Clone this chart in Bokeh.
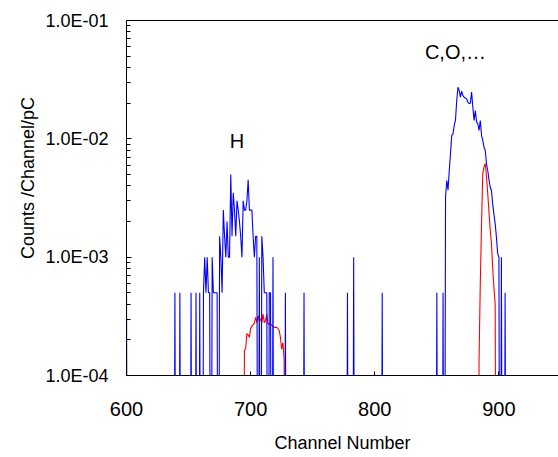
import numpy as np
from bokeh.plotting import figure
from bokeh.models import FixedTicker, LinearAxis, Label, Range1d
from bokeh.embed import file_html
from bokeh.resources import INLINE

# ---------------- data ----------------
x_ticks = [600, 700, 800, 900]
y_ticks = [1e-4, 1e-3, 1e-2, 1e-1]
y_tick_labels = ["1.0E-04", "1.0E-03", "1.0E-02", "1.0E-01"]

blue_channels = [
    600, 601, 638, 639, 640, 642, 643, 644, 651, 652, 653, 655, 656, 657, 658, 659,
    660, 661, 662, 663, 664, 665, 666, 667, 668, 669, 670, 671, 672, 673, 674, 675,
    676, 677, 678, 679, 680, 681, 682, 683, 684, 685, 686, 687, 688, 689, 690, 691,
    692, 693, 694, 695, 696, 697, 698, 699, 700, 701, 702, 703, 704, 705, 706, 707,
    708, 709, 710, 711, 712, 713, 714, 715, 716, 717, 718, 719, 727, 728, 729, 742,
    743, 744, 777, 778, 779, 782, 783, 784, 805, 806, 807, 849, 850, 851, 854, 855,
    856, 857, 858, 859, 860, 861, 862, 863, 864, 865, 866, 867, 868, 869, 870, 871,
    872, 873, 874, 875, 876, 877, 878, 879, 880, 881, 882, 883, 884, 885, 886, 887,
    888, 889, 890, 891, 892, 893, 894, 895, 896, 897, 898, 899, 900, 901, 902, 903,
    904, 905, 906,
]
blue_values = [
    5e-4, 0, 0, 5e-4, 0, 0, 5e-4, 0, 0, 5e-4, 0, 0, 5e-4, 0, 0, 5e-4,
    0, 0, 5e-4, 1e-3, 5e-4, 1e-3, 5e-4, 5e-4, 0, 1e-3, 5e-4, 5e-4, 5e-4, 5e-4, 0, 1.5e-3,
    1e-3, 5e-4, 2.5e-3, 1.5e-3, 1e-3, 2e-3, 1e-3, 1e-3, 5e-3, 1.5e-3, 3.5e-3, 2.5e-3, 1.5e-3, 3e-3, 2.5e-3, 2e-3,
    1.5e-3, 1e-3, 3e-3, 2.5e-3, 2.5e-3, 3e-3, 4.5e-3, 2.5e-3, 2.5e-3, 2.5e-3, 1.5e-3, 1e-3, 1.5e-3, 1.5e-3, 0, 1e-3,
    0, 1.5e-3, 1e-3, 5e-4, 5e-4, 5e-4, 0, 5e-4, 5e-4, 0, 1e-3, 0, 0, 5e-4, 0, 0,
    5e-4, 0, 0, 5e-4, 0, 0, 1e-3, 0, 0, 5e-4, 0, 0, 5e-4, 0, 0, 5e-4,
    0, 3.2e-3, 4.45e-3, 3.7e-3, 5.4e-3, 7.5e-3, 1.07e-2, 1.1e-2, 1.3e-2, 1.43e-2, 2.1e-2, 2.73e-2, 2.56e-2, 2.25e-2, 2.53e-2, 2.32e-2,
    2.25e-2, 2.2e-2, 2.18e-2, 2.04e-2, 1.98e-2, 2.0e-2, 2.48e-2, 1.85e-2, 1.43e-2, 1.73e-2, 1.39e-2, 1.34e-2, 1.18e-2, 1.43e-2, 1.07e-2, 9.7e-3,
    8.5e-3, 8e-3, 6.15e-3, 5.4e-3, 4.5e-3, 3.9e-3, 3.66e-3, 2.82e-3, 2.3e-3, 1.91e-3, 1.47e-3, 1.07e-3, 1e-3, 0, 1e-3, 0,
    0, 5e-4, 0,
]

red_channels = [
    694, 695, 696, 697, 698, 699, 700, 701, 702, 703, 704, 705, 706, 707, 708, 709,
    710, 711, 712, 713, 714, 715, 716, 717, 718, 719, 720, 721, 722, 723, 724, 725,
    726, 727, 728,
    883, 884, 885, 886, 887, 888, 889, 890, 891, 892, 893, 894, 895, 896, 897, 898,
]
red_values = [
    0, 1.62e-4, 1.7e-4, 2.26e-4, 2.2e-4, 2.1e-4, 2.5e-4, 2.6e-4, 2.7e-4, 2.75e-4, 3.1e-4, 2.8e-4, 3.2e-4, 2.9e-4, 3.0e-4, 2.8e-4,
    3.3e-4, 2.8e-4, 2.9e-4, 3.3e-4, 2.7e-4, 2.75e-4, 2.75e-4, 2.65e-4, 2.6e-4, 2.55e-4, 2.55e-4, 2.55e-4, 2.5e-4, 2.4e-4, 2.1e-4, 1.67e-4,
    1.9e-4, 1.35e-4, 0,
    0, 1.35e-4, 6e-4, 1.9e-3, 5.1e-3, 5.8e-3, 6.15e-3, 4.8e-3, 3.44e-3, 2.4e-3, 1.7e-3, 1.3e-3, 8e-4, 5.5e-4, 4e-4, 0,
]

# zero counts cannot be shown on a log axis: send them far below the frame
FLOOR = 1e-7
blue_plot = np.where(np.array(blue_values) > 0, blue_values, FLOOR)
red_plot = np.where(np.array(red_values) > 0, red_values, FLOOR)

FONT = "Liberation Sans"

p = figure(width=558, height=457, y_axis_type="log",
           x_range=Range1d(600, 948), y_range=Range1d(1e-4, 1e-1),
           output_backend="svg", toolbar_location=None,
           min_border_left=126, min_border_right=0, min_border_top=20, min_border_bottom=82)
p.outline_line_color = None
p.xgrid.grid_line_color = None
p.ygrid.grid_line_color = None
p.background_fill_color = "white"
p.border_fill_color = "white"

p.line(red_channels, red_plot, color="#FF0000", line_width=1.1)
p.line(blue_channels, blue_plot, color="#0000FF", line_width=1.1)

# x axis
xa = p.xaxis[0]
xa.ticker = FixedTicker(ticks=x_ticks)
xa.axis_label = "Channel Number"
xa.axis_label_text_font = FONT
xa.axis_label_text_font_style = "normal"
xa.axis_label_text_font_size = "18px"
xa.axis_label_text_color = "black"
xa.axis_label_standoff = 14
xa.major_label_text_font = FONT
xa.major_label_text_font_size = "20px"
xa.major_label_text_color = "black"
xa.major_label_standoff = 26
xa.major_tick_in = 4
xa.major_tick_out = 0
xa.minor_tick_line_color = None
xa.axis_line_color = "black"
xa.major_tick_line_color = "black"

# y axis
minor = [m * t for t in y_ticks[:-1] for m in range(2, 10)]
ya = p.yaxis[0]
ya.ticker = FixedTicker(ticks=y_ticks, minor_ticks=minor)
ya.major_label_overrides = {t: l for t, l in zip(y_ticks, y_tick_labels)}
ya.axis_label = "\u00a0" * 8 + "Counts /Channel/pC"
ya.axis_label_text_font = FONT
ya.axis_label_text_font_style = "normal"
ya.axis_label_text_font_size = "18px"
ya.axis_label_text_color = "black"
ya.axis_label_standoff = 4
ya.major_label_text_font = FONT
ya.major_label_text_font_size = "18px"
ya.major_label_text_color = "black"
ya.major_label_standoff = 18
ya.major_tick_in = 5
ya.major_tick_out = 0
ya.minor_tick_in = 4
ya.minor_tick_out = 0
ya.axis_line_color = "black"
ya.major_tick_line_color = "black"
ya.minor_tick_line_color = "black"

# top border line
top = LinearAxis(ticker=FixedTicker(ticks=[]), major_label_text_font_size="0px",
                 major_tick_line_color=None, minor_tick_line_color=None,
                 axis_line_color="black", major_label_standoff=0)
p.add_layout(top, "above")

# peak annotations
p.add_layout(Label(x=689, y=9.6e-3, text="H", text_font=FONT, text_font_size="20px",
                   text_align="center", text_baseline="middle", text_color="black"))
p.add_layout(Label(x=865, y=5.4e-2, text="C,O,…", text_font=FONT, text_font_size="20px",
                   text_align="center", text_baseline="middle", text_color="black"))

open("out.html", "w").write(file_html(p, INLINE))
